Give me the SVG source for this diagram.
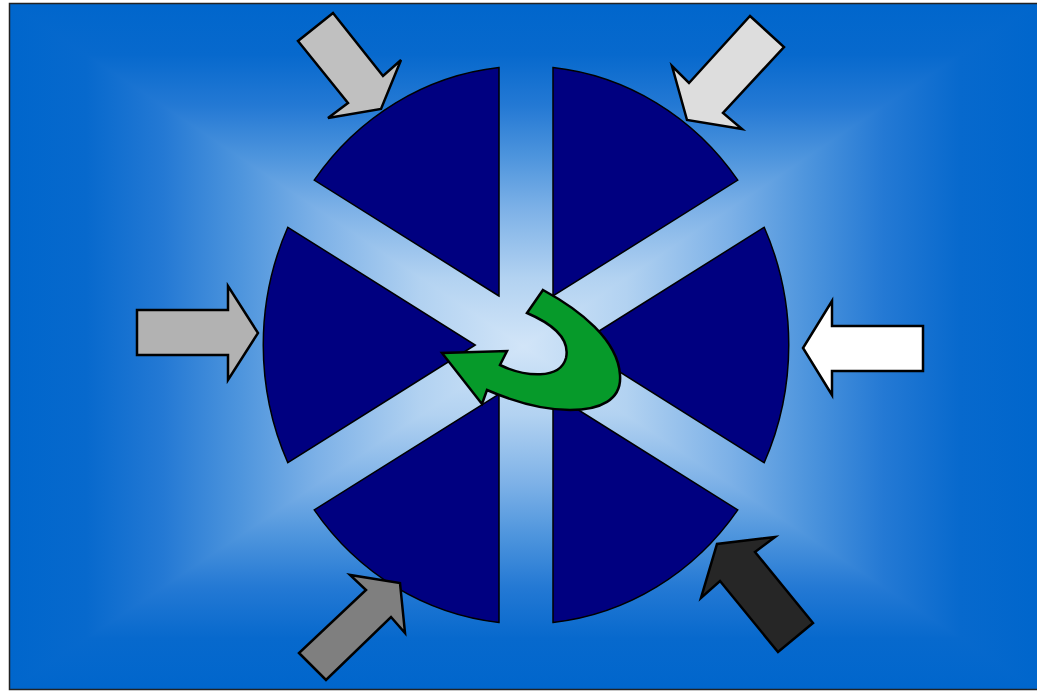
<svg xmlns="http://www.w3.org/2000/svg" width="1037" height="691" viewBox="0 0 1037 691">
<defs>
<linearGradient id="gh" gradientUnits="userSpaceOnUse" x1="9" y1="0" x2="1038" y2="0">
<stop offset="0" stop-color="#0066CC"/>
<stop offset="0.075" stop-color="#0769CD"/>
<stop offset="0.15" stop-color="#2479D4"/>
<stop offset="0.225" stop-color="#4E95DD"/>
<stop offset="0.3" stop-color="#7DB1E7"/>
<stop offset="0.4" stop-color="#B2D2F1"/>
<stop offset="0.5" stop-color="#D2E5F8"/>
<stop offset="0.6" stop-color="#B2D2F1"/>
<stop offset="0.7" stop-color="#7DB1E7"/>
<stop offset="0.775" stop-color="#4E95DD"/>
<stop offset="0.85" stop-color="#2479D4"/>
<stop offset="0.925" stop-color="#0769CD"/>
<stop offset="1" stop-color="#0066CC"/>
</linearGradient>
<linearGradient id="gv" gradientUnits="userSpaceOnUse" x1="0" y1="3" x2="0" y2="690">
<stop offset="0" stop-color="#0066CC"/>
<stop offset="0.075" stop-color="#0769CD"/>
<stop offset="0.15" stop-color="#2479D4"/>
<stop offset="0.225" stop-color="#4E95DD"/>
<stop offset="0.3" stop-color="#7DB1E7"/>
<stop offset="0.4" stop-color="#B2D2F1"/>
<stop offset="0.5" stop-color="#D2E5F8"/>
<stop offset="0.6" stop-color="#B2D2F1"/>
<stop offset="0.7" stop-color="#7DB1E7"/>
<stop offset="0.775" stop-color="#4E95DD"/>
<stop offset="0.85" stop-color="#2479D4"/>
<stop offset="0.925" stop-color="#0769CD"/>
<stop offset="1" stop-color="#0066CC"/>
</linearGradient>
<style>
.sec{fill:#000080;stroke:#000;stroke-width:1.5;stroke-linejoin:miter}
.arr{stroke:#000;stroke-width:2.5;stroke-linejoin:miter}
</style>
</defs>
<g id="background">
<rect x="9" y="3" width="1029" height="687" fill="url(#gh)"/>
<path d="M9,3 L1038,3 L523.5,346.5 Z M9,690 L1038,690 L523.5,346.5 Z" fill="url(#gv)"/>
<rect x="9.5" y="3.5" width="1029" height="686" fill="none" stroke="#222" stroke-width="1.5"/>
</g>
<g id="wheel">
<path id="sector-top-right" class="sec" d="M553,296 L553,67.5 A263,279 0 0,1 737.8,180.1 Z"/>
<path id="sector-right" class="sec" d="M576.8,345 L764.2,227.3 A263,279 0 0,1 764.2,462.7 Z"/>
<path id="sector-bottom-right" class="sec" d="M553,394 L737.8,509.9 A263,279 0 0,1 553,622.5 Z"/>
<path id="sector-bottom-left" class="sec" d="M499,394 L499,622.5 A263,279 0 0,1 314.2,509.9 Z"/>
<path id="sector-left" class="sec" d="M475.2,345 L287.8,462.7 A263,279 0 0,1 287.8,227.3 Z"/>
<path id="sector-top-left" class="sec" d="M499,296 L314.2,180.1 A263,279 0 0,1 499,67.5 Z"/>
</g>
<g id="connectors">
<polygon id="arrow-top-left" class="arr" fill="#C0C0C0" points="333,13 383,76 401,60 381,109 328,118 348,103 298,41"/>
<polygon id="arrow-top-right" class="arr" fill="#DDDDDD" points="750,16 784,47 723,113 742,129 687,120 672,66 689,83"/>
<polygon id="arrow-left" class="arr" fill="#B2B2B2" points="137,310 228,310 228,286 258,333 228,380 228,355 137,355"/>
<polygon id="arrow-right" class="arr" fill="#FFFFFF" points="923,326 832,326 832,301 803,348 832,395 832,371 923,371"/>
<polygon id="arrow-bottom-left" class="arr" fill="#7F7F7F" points="299,653 326,680 391,617 405,633 400,583 350,575 366,590"/>
<polygon id="arrow-bottom-right" class="arr" fill="#262626" points="813,623 778,652 720,581 701,598 717,544 775,537 755,552"/>
</g>
<g id="center-arrow">
<path class="arr" fill="#069A2A" d="M543,290 C580,310 618,340 620,375 C622,400 600,410 570,410 C540,410 510,400 487,390 L482,404 L442,353 L507,351 L500,365 C525,377 560,380 566,358 C570,340 555,325 527,313 Z"/>
</g>
</svg>
